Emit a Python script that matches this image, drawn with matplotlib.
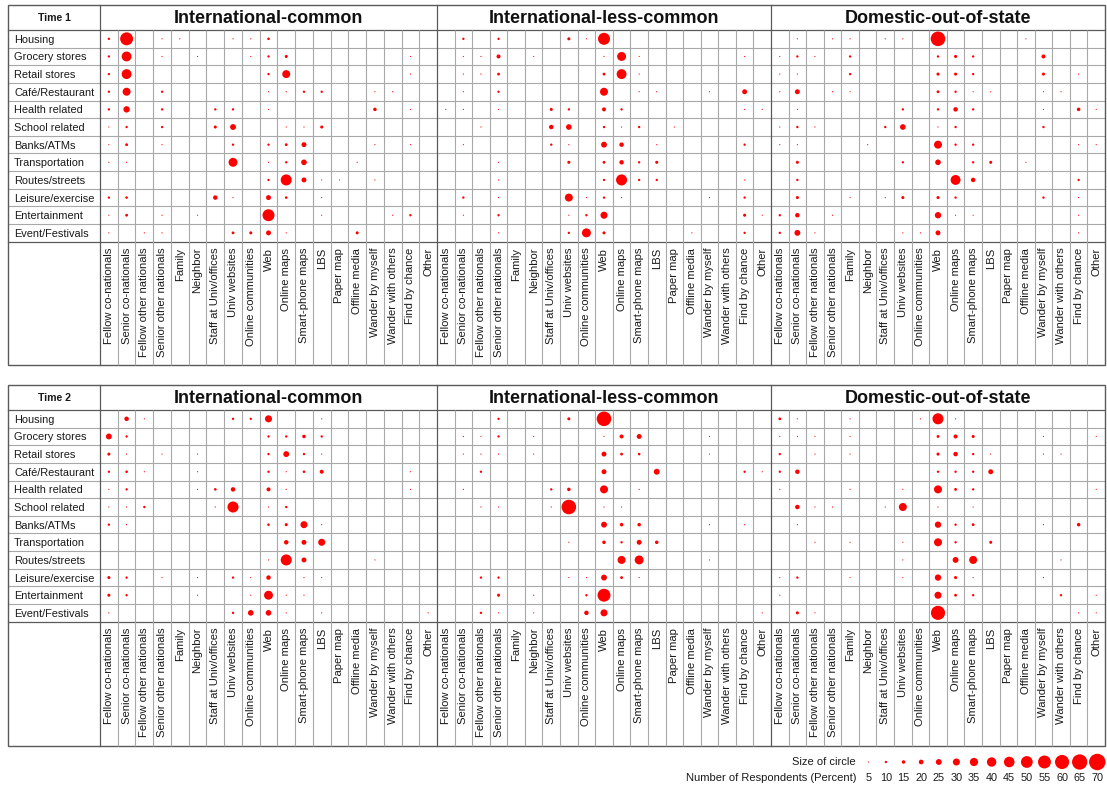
import numpy as np
import matplotlib
matplotlib.use("Agg")
import matplotlib.pyplot as plt
from matplotlib.patches import Rectangle

plt.rcParams['font.family'] = ['Liberation Sans', 'DejaVu Sans']

categories = ["Housing", "Grocery stores", "Retail stores", "Café/Restaurant", "Health related",
              "School related", "Banks/ATMs", "Transportation", "Routes/streets",
              "Leisure/exercise", "Entertainment", "Event/Festivals"]
sources = ["Fellow co-nationals", "Senior co-nationals", "Fellow other nationals",
           "Senior other nationals", "Family", "Neighbor", "Staff at Univ/offices",
           "Univ websites", "Online communities", "Web", "Online maps", "Smart-phone maps",
           "LBS", "Paper map", "Offline media", "Wander by myself", "Wander with others",
           "Find by chance", "Other"]
groups = ["International-common", "International-less-common", "Domestic-out-of-state"]
times = ["Time 1", "Time 2"]
legend_values = [5, 10, 15, 20, 25, 30, 35, 40, 45, 50, 55, 60, 65, 70]

# Percent of respondents (0 = no circle); rows = categories, cols = sources
t1_int_common = [
    [10, 55, 0, 5, 5, 0, 0, 5, 5, 11, 0, 0, 0, 0, 0, 0, 0, 0, 0],
    [10, 42, 0, 5, 0, 5, 0, 0, 5, 10, 13, 0, 0, 0, 0, 0, 0, 5, 0],
    [10, 42, 0, 0, 0, 0, 0, 0, 0, 10, 34, 0, 0, 0, 0, 0, 0, 5, 0],
    [10, 34, 0, 10, 0, 0, 0, 0, 0, 5, 5, 10, 10, 0, 0, 5, 5, 0, 0],
    [10, 27, 0, 10, 0, 0, 10, 10, 0, 5, 0, 0, 0, 0, 0, 15, 0, 5, 0],
    [5, 10, 0, 10, 0, 0, 13, 25, 0, 0, 5, 5, 13, 0, 0, 0, 0, 0, 0],
    [5, 12, 0, 5, 0, 0, 0, 10, 0, 10, 12, 21, 0, 0, 0, 5, 0, 5, 0],
    [5, 5, 0, 0, 0, 0, 0, 38, 0, 5, 10, 24, 0, 0, 5, 0, 0, 0, 0],
    [0, 0, 0, 0, 0, 0, 0, 0, 0, 10, 47, 21, 5, 5, 0, 5, 0, 0, 0],
    [10, 11, 0, 0, 0, 0, 19, 5, 0, 21, 11, 0, 5, 0, 0, 0, 0, 0, 0],
    [5, 12, 0, 5, 0, 5, 0, 0, 0, 51, 0, 0, 5, 0, 0, 0, 5, 10, 0],
    [5, 0, 5, 5, 0, 0, 0, 12, 13, 21, 5, 0, 0, 0, 13, 0, 0, 0, 0],
]
t1_int_less_common = [
    [0, 10, 0, 10, 0, 0, 0, 13, 5, 51, 0, 0, 0, 0, 0, 0, 0, 0, 0],
    [0, 5, 5, 17, 0, 5, 0, 0, 0, 5, 38, 5, 0, 0, 0, 0, 0, 5, 0],
    [0, 5, 5, 12, 0, 0, 0, 0, 0, 12, 42, 5, 0, 0, 0, 0, 0, 0, 0],
    [0, 5, 0, 10, 0, 0, 0, 0, 0, 34, 0, 5, 5, 0, 0, 5, 0, 21, 0],
    [5, 5, 0, 5, 0, 0, 13, 10, 0, 17, 10, 0, 0, 0, 0, 0, 0, 5, 5],
    [0, 0, 5, 0, 0, 0, 19, 24, 0, 10, 5, 10, 0, 5, 0, 0, 0, 0, 0],
    [0, 5, 0, 0, 0, 0, 10, 5, 0, 25, 19, 0, 5, 0, 0, 0, 0, 10, 0],
    [0, 0, 0, 5, 0, 0, 0, 13, 0, 12, 19, 10, 13, 0, 0, 0, 0, 0, 0],
    [0, 0, 0, 5, 0, 0, 0, 0, 0, 10, 47, 10, 10, 0, 0, 0, 0, 5, 0],
    [0, 10, 0, 5, 0, 0, 0, 34, 5, 10, 5, 0, 0, 0, 0, 5, 0, 10, 0],
    [0, 5, 0, 10, 0, 0, 0, 5, 10, 30, 0, 0, 0, 0, 0, 0, 0, 13, 5],
    [0, 0, 0, 5, 0, 0, 0, 10, 38, 13, 0, 0, 0, 0, 5, 0, 0, 10, 0],
]
t1_domestic = [
    [0, 5, 0, 5, 5, 0, 5, 5, 0, 62, 0, 0, 0, 0, 5, 0, 0, 0, 0],
    [5, 10, 5, 0, 10, 0, 0, 0, 0, 10, 13, 10, 0, 0, 0, 17, 0, 0, 0],
    [5, 5, 0, 0, 10, 0, 0, 0, 0, 13, 13, 10, 0, 0, 0, 13, 0, 5, 0],
    [5, 21, 0, 5, 5, 0, 0, 0, 0, 12, 10, 5, 5, 0, 0, 5, 5, 0, 0],
    [0, 5, 0, 0, 0, 0, 0, 10, 0, 10, 19, 10, 0, 0, 0, 5, 0, 15, 5],
    [5, 10, 5, 0, 0, 0, 10, 24, 0, 5, 10, 0, 0, 0, 0, 10, 0, 0, 0],
    [5, 5, 0, 0, 0, 5, 0, 0, 0, 34, 10, 10, 0, 0, 0, 0, 0, 5, 5],
    [0, 13, 0, 0, 0, 0, 0, 10, 0, 24, 0, 10, 13, 0, 5, 0, 0, 0, 0],
    [0, 10, 0, 0, 0, 0, 0, 0, 0, 0, 42, 19, 0, 0, 0, 0, 0, 10, 0],
    [0, 13, 0, 0, 5, 0, 5, 13, 0, 13, 10, 0, 0, 0, 0, 10, 0, 5, 0],
    [10, 19, 0, 5, 0, 0, 0, 0, 0, 27, 5, 5, 0, 0, 0, 0, 0, 5, 0],
    [10, 25, 5, 0, 0, 0, 0, 5, 5, 21, 0, 0, 0, 0, 0, 0, 0, 5, 0],
]
t2_int_common = [
    [0, 19, 5, 0, 0, 0, 0, 10, 10, 30, 0, 0, 5, 0, 0, 0, 0, 0, 0],
    [25, 10, 0, 0, 0, 0, 0, 0, 0, 10, 10, 15, 10, 0, 0, 0, 0, 0, 0],
    [13, 5, 0, 5, 0, 5, 0, 0, 0, 10, 25, 10, 5, 0, 0, 0, 0, 0, 0],
    [10, 11, 5, 0, 0, 5, 0, 0, 0, 10, 5, 11, 17, 0, 0, 0, 0, 5, 0],
    [5, 10, 0, 0, 0, 5, 11, 19, 0, 17, 5, 0, 0, 0, 0, 0, 0, 5, 0],
    [5, 5, 10, 0, 0, 0, 5, 47, 0, 5, 10, 0, 0, 0, 0, 0, 0, 0, 0],
    [10, 5, 0, 0, 0, 0, 0, 0, 0, 11, 13, 30, 5, 0, 0, 0, 0, 0, 0],
    [0, 0, 0, 0, 0, 0, 0, 0, 0, 0, 19, 21, 30, 0, 0, 0, 0, 0, 0],
    [0, 0, 0, 0, 0, 0, 0, 0, 0, 5, 47, 21, 0, 0, 0, 5, 0, 0, 0],
    [13, 10, 0, 5, 0, 5, 0, 10, 5, 19, 0, 5, 5, 0, 0, 0, 0, 0, 0],
    [13, 10, 0, 0, 0, 5, 0, 0, 5, 38, 5, 5, 0, 0, 0, 0, 0, 0, 0],
    [5, 0, 0, 0, 0, 0, 0, 10, 24, 24, 5, 0, 5, 0, 0, 0, 0, 0, 5],
]
t2_int_less_common = [
    [0, 0, 0, 10, 0, 0, 0, 13, 0, 62, 0, 0, 0, 0, 0, 0, 0, 0, 0],
    [0, 5, 5, 10, 0, 5, 0, 0, 0, 5, 17, 21, 0, 0, 0, 5, 0, 0, 0],
    [0, 5, 5, 5, 0, 5, 0, 0, 0, 21, 12, 11, 0, 0, 0, 5, 0, 0, 0],
    [0, 0, 10, 0, 0, 0, 0, 0, 0, 21, 0, 0, 25, 0, 0, 0, 0, 10, 5],
    [0, 5, 0, 0, 0, 0, 10, 15, 0, 34, 0, 5, 0, 0, 0, 0, 0, 0, 0],
    [0, 0, 5, 5, 0, 0, 5, 62, 0, 5, 5, 0, 0, 0, 0, 0, 0, 0, 0],
    [0, 0, 0, 0, 0, 0, 0, 0, 0, 25, 15, 15, 0, 0, 0, 5, 0, 5, 0],
    [0, 0, 0, 0, 0, 0, 0, 5, 0, 15, 10, 21, 15, 0, 0, 0, 0, 0, 0],
    [0, 0, 0, 0, 0, 0, 0, 0, 0, 0, 34, 38, 0, 0, 0, 5, 0, 0, 0],
    [0, 0, 10, 10, 0, 0, 0, 5, 5, 25, 12, 5, 0, 0, 0, 0, 0, 0, 0],
    [0, 0, 0, 13, 0, 5, 0, 0, 10, 55, 0, 0, 0, 0, 0, 0, 0, 0, 0],
    [0, 0, 10, 5, 0, 5, 0, 0, 19, 30, 0, 0, 0, 0, 0, 0, 0, 0, 5],
]
t2_domestic = [
    [12, 5, 0, 0, 5, 0, 0, 0, 5, 47, 5, 0, 0, 0, 0, 0, 0, 0, 0],
    [5, 5, 5, 0, 5, 0, 0, 0, 0, 12, 17, 13, 0, 0, 0, 5, 0, 0, 5],
    [10, 0, 5, 0, 5, 0, 0, 0, 0, 13, 19, 10, 5, 0, 0, 5, 5, 0, 0],
    [10, 19, 0, 0, 0, 0, 0, 0, 0, 10, 10, 10, 21, 0, 0, 0, 0, 0, 0],
    [5, 0, 0, 0, 5, 0, 0, 5, 0, 34, 12, 10, 0, 0, 0, 0, 0, 0, 5],
    [0, 19, 5, 5, 0, 0, 5, 34, 0, 5, 0, 5, 0, 0, 0, 0, 0, 0, 0],
    [0, 5, 0, 0, 0, 0, 0, 0, 0, 27, 10, 12, 0, 0, 0, 5, 0, 15, 0],
    [0, 0, 5, 0, 5, 0, 0, 5, 0, 34, 10, 0, 13, 0, 0, 0, 0, 0, 0],
    [0, 0, 0, 0, 0, 0, 0, 5, 0, 0, 25, 34, 0, 0, 0, 0, 5, 0, 0],
    [5, 10, 0, 0, 5, 0, 0, 5, 0, 27, 13, 5, 0, 0, 0, 5, 0, 0, 0],
    [5, 0, 0, 0, 0, 0, 0, 0, 0, 30, 12, 10, 0, 0, 0, 0, 10, 0, 5],
    [0, 13, 5, 0, 0, 0, 0, 0, 0, 60, 0, 0, 0, 0, 0, 0, 0, 5, 5],
]
panel_data = [[t1_int_common, t1_int_less_common, t1_domestic],
              [t2_int_common, t2_int_less_common, t2_domestic]]

# ---------------- layout (pixels) ----------------
W, H = 1107, 790
RED = '#ff0000'
LIGHT = '#a8a8a8'
DARK = '#5a5a5a'
TXT = '#1a1a1a'
left_edge, right_edge = 8, 1105
gx = [100, 437, 771, 1105]
rh = 17.64
panels_y = [(5, 30, 365), (385, 410, 746)]  # top, header bottom, bottom


def msize(p):
    d_px = 0.235 * np.asarray(p, dtype=float)
    return (d_px * 72 / 100) ** 2


def frect(x0, y0, x1, y1):
    return [x0 / W, 1 - y1 / H, (x1 - x0) / W, (y1 - y0) / H]


fig = plt.figure(figsize=(W / 100, H / 100), dpi=100)
bg = fig.add_axes([0, 0, 1, 1])
bg.set_xlim(0, W)
bg.set_ylim(H, 0)
bg.axis('off')

for p, (top, hdr, bot) in enumerate(panels_y):
    rows_end = hdr + 12 * rh
    for k in range(1, 13):
        y = hdr + k * rh
        bg.plot([left_edge, right_edge], [y, y], color=LIGHT if k < 12 else DARK,
                lw=0.8 if k < 12 else 0.9, zorder=1)
    bg.plot([left_edge, right_edge], [hdr, hdr], color=DARK, lw=0.9, zorder=2)
    for x in gx[:-1]:
        bg.plot([x, x], [top, bot], color=DARK, lw=0.9, zorder=2)
    bg.add_patch(Rectangle((left_edge, top), right_edge - left_edge, bot - top,
                           fill=False, ec=DARK, lw=1.0, zorder=3))
    bg.text((left_edge + gx[0]) / 2, (top + hdr) / 2 + 0.5, times[p], ha='center',
            va='center', fontsize=7.6, fontweight='bold', color=TXT)
    for g in range(3):
        bg.text((gx[g] + gx[g + 1]) / 2, (top + hdr) / 2 + 0.8, groups[g], ha='center',
                va='center', fontsize=13, fontweight='bold', color='#111111')
        ax = fig.add_axes(frect(gx[g], hdr, gx[g + 1], rows_end))
        ax.set_facecolor('none')
        ax.set_xlim(-0.5, 18.5)
        ax.set_ylim(11.5, -0.5)
        for s in ax.spines.values():
            s.set_visible(False)
        extra = (bot - rows_end) / rh
        ax.vlines(np.arange(0.5, 18.5), -0.5, 11.5 + extra, colors=LIGHT, lw=0.8,
                  clip_on=False, zorder=1)
        vals = np.array(panel_data[p][g], dtype=float)
        rr, cc = np.nonzero(vals)
        ax.scatter(cc, rr, s=msize(vals[rr, cc]), color=RED, linewidths=0,
                   zorder=3, clip_on=False)
        ax.set_xticks(range(len(sources)))
        ax.set_xticklabels(sources, rotation=90, fontsize=8.1, color=TXT)
        ax.tick_params(axis='x', length=0, pad=4.3)
        if g == 0:
            ax.set_yticks(range(len(categories)))
            ax.set_yticklabels(categories, ha='left', fontsize=7.9, color=TXT)
            ax.tick_params(axis='y', length=0, pad=(gx[0] - 14) * 0.72)
        else:
            ax.set_yticks([])

# ---------------- legend ----------------
lax = fig.add_axes(frect(859.5, 754, 1106.1, 786))
lax.set_xlim(-0.5, 13.5)
lax.set_ylim(1.5, -0.5)
lax.axis('off')
xs = np.arange(len(legend_values))
lax.scatter(xs, np.zeros_like(xs), s=msize(legend_values), color=RED, linewidths=0,
            clip_on=False)
for i, v in enumerate(legend_values):
    lax.text(i, 1, str(v), ha='center', va='center', fontsize=7.8, color=TXT)
bg.text(856, 762, 'Size of circle', ha='right', va='center', fontsize=8.0, color=TXT)
bg.text(856, 778, 'Number of Respondents (Percent)', ha='right', va='center',
        fontsize=8.0, color=TXT)

fig.savefig('out.png', dpi=100)
